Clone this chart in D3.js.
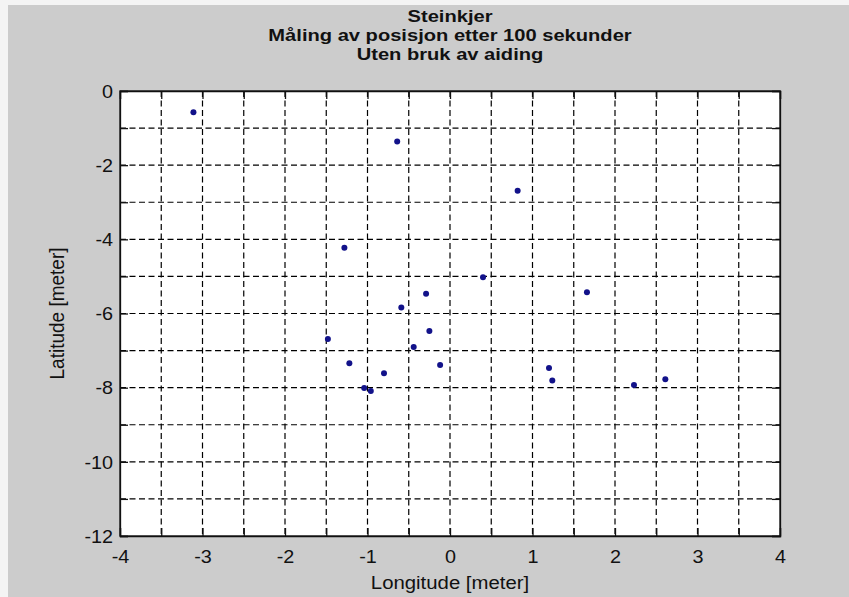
<!DOCTYPE html>
<html>
<head>
<meta charset="utf-8">
<script src="https://cdn.jsdelivr.net/npm/d3@7"></script>
<style>
  html, body { margin: 0; padding: 0; background: #cccccc; }
  svg { display: block; }
  text { font-family: "Liberation Sans", Arial, sans-serif; fill: #111; }
</style>
</head>
<body>
<svg id="chart" width="849" height="597"></svg>
<script>
// Measured positions (meters) after 100 s, no aiding
const longitude = [-3.11, -0.64, 0.82, -1.28, 0.40, 1.66, -0.29, -0.59, -1.48, -0.25,
                   -0.44, -1.22, -0.12, -0.80, -1.04, -0.96, 1.20, 1.24, 2.23, 2.61];
const latitude  = [-0.57, -1.36, -2.69, -4.23, -5.02, -5.43, -5.47, -5.84, -6.69, -6.47,
                   -6.90, -7.34, -7.39, -7.61, -8.01, -8.09, -7.47, -7.81, -7.93, -7.77];

const xTicks = [-4, -3.5, -3, -2.5, -2, -1.5, -1, -0.5, 0, 0.5, 1, 1.5, 2, 2.5, 3, 3.5, 4];
const xTickLabels = [-4, -3, -2, -1, 0, 1, 2, 3, 4];
const yTicks = [0, -1, -2, -3, -4, -5, -6, -7, -8, -9, -10, -11, -12];
const yTickLabels = [0, -2, -4, -6, -8, -10, -12];

const titleLines = ["Steinkjer", "Måling av posisjon etter 100 sekunder", "Uten bruk av aiding"];
const xLabel = "Longitude [meter]";
const yLabel = "Latitude [meter]";

const svg = d3.select("#chart");
const W = 849, H = 597;
const m = { left: 120, right: 69, top: 91, bottom: 61 };
const pw = W - m.left - m.right, ph = H - m.top - m.bottom;
const stretch = 1.1; // horizontal stretch applied to glyphs

// light strips along the top and left border of the figure
svg.append("rect").attr("x", 0).attr("y", 0).attr("width", W).attr("height", H).attr("fill", "#cccccc");
svg.append("rect").attr("x", 0).attr("y", 0).attr("width", W).attr("height", 5).attr("fill", "#f4f4f4");
svg.append("rect").attr("x", 0).attr("y", 0).attr("width", 8).attr("height", H).attr("fill", "#f4f4f4");

const x = d3.scaleLinear().domain([-4, 4]).range([0, pw]);
const y = d3.scaleLinear().domain([-12, 0]).range([ph, 0]);

const g = svg.append("g").attr("transform", `translate(${m.left},${m.top})`);

g.append("rect").attr("width", pw).attr("height", ph).attr("fill", "#ffffff");

// dashed grid
g.append("g").selectAll("line").data(xTicks.slice(1, -1)).join("line")
  .attr("x1", d => x(d)).attr("x2", d => x(d)).attr("y1", 0).attr("y2", ph)
  .attr("stroke", "#000").attr("stroke-width", 1.2).attr("stroke-dasharray", "6,3.5");
g.append("g").selectAll("line").data(yTicks.slice(1, -1)).join("line")
  .attr("y1", d => y(d)).attr("y2", d => y(d)).attr("x1", 0).attr("x2", pw)
  .attr("stroke", "#000").attr("stroke-width", 1.2).attr("stroke-dasharray", "6,3.5");

const fmt = d => (xTickLabels.includes(d) ? String(d) : "");
const fmtY = d => (yTickLabels.includes(d) ? String(d) : "");
const tick = 8;

// bottom axis
const gb = g.append("g").attr("transform", `translate(0,${ph})`)
  .call(d3.axisBottom(x).tickValues(xTicks).tickSize(-tick).tickPadding(0).tickFormat(fmt));
gb.selectAll("text").attr("y", 0).attr("dy", 0)
  .attr("transform", `translate(0,27) scale(${stretch},1)`)
  .style("font-size", "18px").style("fill", "#111");

// left axis
const gl = g.append("g")
  .call(d3.axisLeft(y).tickValues(yTicks).tickSize(-tick).tickPadding(0).tickFormat(fmtY));
gl.selectAll("text").attr("x", 0).attr("dy", "0.35em")
  .attr("transform", `translate(-7,0) scale(${stretch},1)`)
  .style("font-size", "18px").style("fill", "#111");

// top and right axes (ticks only)
g.append("g").call(d3.axisTop(x).tickValues(xTicks).tickSize(-tick).tickFormat(""));
g.append("g").attr("transform", `translate(${pw},0)`)
  .call(d3.axisRight(y).tickValues(yTicks).tickSize(-tick).tickFormat(""));

g.selectAll(".domain").attr("stroke", "#111").attr("stroke-width", 1.3);
g.selectAll(".tick line").attr("stroke", "#111").attr("stroke-width", 1.3);

// frame
g.append("rect").attr("width", pw).attr("height", ph)
  .attr("fill", "none").attr("stroke", "#111").attr("stroke-width", 1.3);

// points
g.append("g").selectAll("circle").data(longitude.map((d, i) => [d, latitude[i]])).join("circle")
  .attr("cx", d => x(d[0])).attr("cy", d => y(d[1])).attr("r", 3)
  .attr("fill", "#12128a");

// title
const cx = m.left + pw / 2;
const titleY = [22, 41, 60];
svg.append("g").selectAll("text").data(titleLines).join("text")
  .attr("transform", (d, i) => `translate(${cx},${titleY[i]}) scale(1.22,1)`)
  .attr("text-anchor", "middle").style("font-size", "16.5px").style("font-weight", "bold")
  .text(d => d);

// axis labels
svg.append("text")
  .attr("transform", `translate(${cx},589) scale(${stretch},1)`)
  .attr("text-anchor", "middle").style("font-size", "18.5px").text(xLabel);
svg.append("text")
  .attr("transform", `translate(64,${m.top + ph / 2}) rotate(-90) scale(1,${stretch})`)
  .attr("text-anchor", "middle").style("font-size", "19px").text(yLabel);
</script>
</body>
</html>
